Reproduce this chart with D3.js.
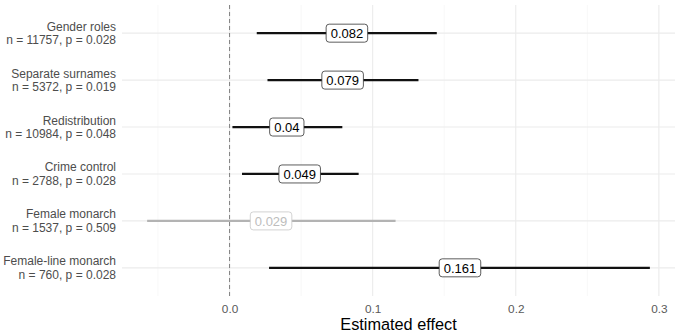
<!DOCTYPE html>
<html>
<head>
<meta charset="utf-8">
<script src="https://cdn.jsdelivr.net/npm/d3@7"></script>
<style>
  body { margin: 0; background: #fff; }
  svg { font-family: "Liberation Sans", Arial, sans-serif; }
</style>
</head>
<body>
<svg id="chart" width="680" height="335"></svg>
<script>
// outcome names and sample info
var outcomes = ["Gender roles", "Separate surnames", "Redistribution", "Crime control", "Female monarch", "Female-line monarch"];
var sampleN = [11757, 5372, 10984, 2788, 1537, 760];
var pValues = ["0.028", "0.019", "0.048", "0.028", "0.509", "0.028"];
// estimates and confidence intervals
var estimates = [0.082, 0.079, 0.04, 0.049, 0.029, 0.161];
var ciLow = [0.019, 0.0265, 0.002, 0.0087, -0.0576, 0.0276];
var ciHigh = [0.1448, 0.132, 0.0788, 0.0902, 0.116, 0.2937];
var xTicks = [0, 0.1, 0.2, 0.3];
var xMinor = [-0.05, 0.05, 0.15, 0.25];

function draw() {
  var rows = outcomes.map(function(o, i) {
    return {
      name: o,
      n: sampleN[i],
      p: pValues[i],
      est: estimates[i],
      lo: ciLow[i],
      hi: ciHigh[i],
      sig: +pValues[i] < 0.05
    };
  });

  var svg = d3.select("#chart");
  var pLeft = 122, pRight = 675, pTop = 5, pBottom = 296;

  // ggplot-style 5% expansion
  var lo = d3.min(ciLow), hi = d3.max(ciHigh), pad = (hi - lo) * 0.05;
  var x = d3.scaleLinear().domain([lo - pad, hi + pad]).range([pLeft, pRight]);
  var y = d3.scalePoint().domain(outcomes).range([pTop, pBottom]).padding(0.6);

  // gridlines
  var grid = svg.append("g");
  grid.selectAll(".minor").data(xMinor).enter().append("line")
    .attr("x1", d => x(d)).attr("x2", d => x(d))
    .attr("y1", pTop).attr("y2", pBottom)
    .attr("stroke", "#f3f3f3").attr("stroke-width", 0.6);
  grid.selectAll(".major").data(xTicks).enter().append("line")
    .attr("x1", d => x(d)).attr("x2", d => x(d))
    .attr("y1", pTop).attr("y2", pBottom)
    .attr("stroke", "#ebebeb").attr("stroke-width", 1.1);
  grid.selectAll(".hz").data(outcomes).enter().append("line")
    .attr("x1", pLeft).attr("x2", pRight)
    .attr("y1", d => y(d)).attr("y2", d => y(d))
    .attr("stroke", "#ebebeb").attr("stroke-width", 1.1);

  // zero reference line
  svg.append("line")
    .attr("x1", x(0)).attr("x2", x(0))
    .attr("y1", pTop).attr("y2", pBottom)
    .attr("stroke", "#7f7f7f").attr("stroke-width", 1)
    .attr("stroke-dasharray", "4,3");

  // intervals
  svg.append("g").selectAll("line").data(rows).enter().append("line")
    .attr("x1", d => x(d.lo)).attr("x2", d => x(d.hi))
    .attr("y1", d => y(d.name)).attr("y2", d => y(d.name))
    .attr("stroke", d => d.sig ? "#111" : "#b3b3b3")
    .attr("stroke-width", 2.3);

  // estimate labels
  var lab = svg.append("g").selectAll("g").data(rows).enter().append("g")
    .attr("transform", d => "translate(" + x(d.est) + "," + y(d.name) + ")");
  lab.append("text")
    .attr("text-anchor", "middle").attr("dy", "0.36em")
    .attr("font-size", 13)
    .attr("fill", d => d.sig ? "#000" : "#bdbdbd")
    .text(d => d.est);
  lab.each(function(d) {
    var g = d3.select(this);
    var b = g.select("text").node().getBBox();
    g.insert("rect", "text")
      .attr("x", b.x - 4.5).attr("y", -9)
      .attr("width", b.width + 9).attr("height", 18)
      .attr("rx", 3)
      .attr("fill", "#fff")
      .attr("stroke", d.sig ? "#333" : "#c8c8c8")
      .attr("stroke-width", 0.8);
  });

  // y-axis labels (two lines)
  var yl = svg.append("g").selectAll("text").data(rows).enter().append("text")
    .attr("text-anchor", "end")
    .attr("font-size", 12)
    .attr("fill", "#4d4d4d");
  yl.append("tspan").attr("x", 116).attr("y", d => y(d.name) - 2.5).text(d => d.name);
  yl.append("tspan").attr("x", 116).attr("y", d => y(d.name) + 11.2).text(d => "n = " + d.n + ", p = " + d.p);

  // x axis
  var xAxis = svg.append("g")
    .attr("transform", "translate(0," + pBottom + ")")
    .call(d3.axisBottom(x).tickValues(xTicks).tickSize(0).tickPadding(9)
      .tickFormat(d3.format(".1f")));
  xAxis.select(".domain").remove();
  xAxis.selectAll("text")
    .attr("font-family", "Liberation Sans, Arial, sans-serif")
    .attr("font-size", 11.8).attr("fill", "#5a5a5a");

  svg.append("text")
    .attr("x", (pLeft + pRight) / 2).attr("y", 330)
    .attr("text-anchor", "middle")
    .attr("font-size", 16.3).attr("fill", "#000")
    .text("Estimated effect");
}

draw();
</script>
</body>
</html>
